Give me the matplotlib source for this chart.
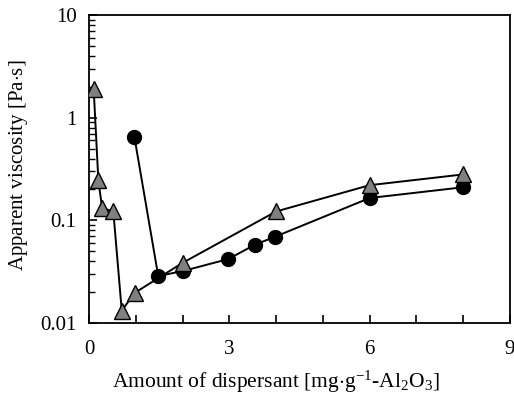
import matplotlib
matplotlib.use("Agg")
import matplotlib.pyplot as plt
from matplotlib.ticker import LogLocator, FixedLocator, NullFormatter, FixedFormatter

plt.rcParams['font.family'] = ['Liberation Serif', 'DejaVu Serif']
plt.rcParams['mathtext.fontset'] = 'custom'
plt.rcParams['mathtext.rm'] = 'Liberation Serif'
plt.rcParams['mathtext.it'] = 'Liberation Serif:italic'

# Triangle series
tri_x = [0.1, 0.2, 0.28, 0.52, 0.7, 0.98, 2.0, 4.0, 6.0, 8.0]
tri_y = [1.9, 0.245, 0.132, 0.122, 0.0132, 0.0197, 0.0385, 0.122, 0.22, 0.28]

# Circle series
cir_x = [0.97, 1.48, 2.0, 2.98, 3.55, 3.97, 6.0, 8.0]
cir_y = [0.65, 0.0287, 0.032, 0.042, 0.058, 0.069, 0.165, 0.21]

x_major = [0, 1, 2, 3, 4, 5, 6, 7, 8, 9]
x_labels = ['0', '', '', '3', '', '', '6', '', '', '9']
y_labels = ['0.01', '0.1', '1', '10']

fig = plt.figure(figsize=(5.14, 3.94), dpi=100)
ax = fig.add_axes([89/514, 1-323/394, (510-89)/514, (323-15)/394])

ax.plot(cir_x, cir_y, '-', color='black', lw=1.4, marker='o', ms=10,
        mfc='black', mec='black', zorder=3)
ax.plot(tri_x, tri_y, '-', color='black', lw=1.4, marker='^', ms=11,
        mfc='#808080', mec='black', mew=1.0, zorder=4)

ax.set_yscale('log')
ax.set_xlim(0, 9)
ax.set_ylim(0.01, 10)

ax.xaxis.set_major_locator(FixedLocator(x_major))
ax.xaxis.set_major_formatter(FixedFormatter(x_labels))
ax.yaxis.set_major_locator(FixedLocator([0.01, 0.1, 1, 10]))
ax.yaxis.set_major_formatter(FixedFormatter(y_labels))
ax.yaxis.set_minor_locator(LogLocator(base=10, subs=range(2, 10)))
ax.yaxis.set_minor_formatter(NullFormatter())

ax.tick_params(axis='both', which='major', direction='in', length=6, width=1.2,
               labelsize=15, top=False, right=False)
ax.tick_params(axis='x', which='major', pad=12)
ax.tick_params(axis='y', which='major', pad=9)
ax.tick_params(axis='y', which='minor', direction='in', length=4, width=1.0,
               right=False)
for s in ax.spines.values():
    s.set_linewidth(1.3)

fig.text(276/514, 1-388/394, r'Amount of dispersant [mg$\cdot$g$^{-1}$-Al$_2$O$_3$]',
         fontsize=15.5, ha='center', va='baseline')
fig.text(19/514, 1-165/394, r'Apparent viscosity [Pa$\cdot$s]',
         fontsize=15, ha='center', va='center', rotation=90)

fig.savefig('out.png', dpi=100)
